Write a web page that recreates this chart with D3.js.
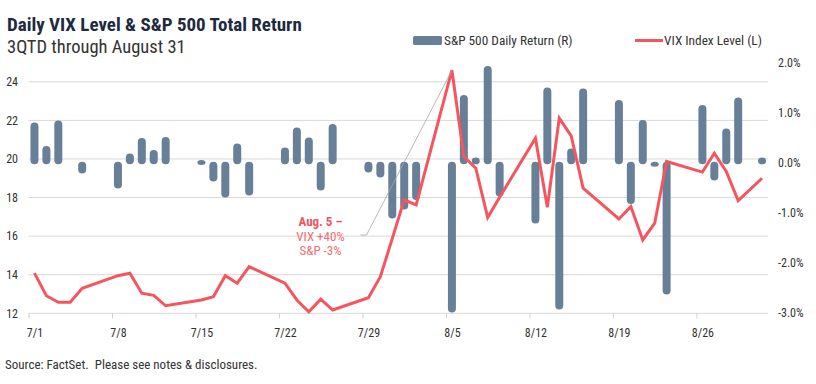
<!DOCTYPE html>
<html>
<head>
<meta charset="utf-8">
<script src="https://cdn.jsdelivr.net/npm/d3@7"></script>
<style>
  body { margin: 0; background: #fff; }
  svg text { font-family: "Roboto", sans-serif; font-stretch: condensed; }
</style>
</head>
<body>
<div id="chart"></div>
<script>
// S&P 500 daily returns (%) - right axis
var spxDates = ["2024-07-01","2024-07-02","2024-07-03","2024-07-05","2024-07-08","2024-07-09","2024-07-10","2024-07-11","2024-07-12",
  "2024-07-15","2024-07-16","2024-07-17","2024-07-18","2024-07-19","2024-07-22","2024-07-23","2024-07-24","2024-07-25","2024-07-26",
  "2024-07-29","2024-07-30","2024-07-31","2024-08-01","2024-08-02","2024-08-05","2024-08-06","2024-08-07","2024-08-08","2024-08-09",
  "2024-08-12","2024-08-13","2024-08-14","2024-08-15","2024-08-16","2024-08-19","2024-08-20","2024-08-21","2024-08-22","2024-08-23",
  "2024-08-26","2024-08-27","2024-08-28","2024-08-29","2024-08-31"];
var spxReturns = [0.80,0.33,0.84,-0.22,-0.52,0.18,0.49,0.25,0.51,
  0.05,-0.38,-0.70,0.38,-0.66,0.30,0.70,0.50,-0.56,0.77,
  -0.20,-0.30,-1.12,-0.94,-0.75,-3.00,1.35,0.10,1.93,-0.68,
  -1.22,1.50,-2.94,0.28,1.48,1.25,-0.83,0.85,-0.08,-2.64,
  1.15,-0.36,0.68,1.30,0.10];

// VIX index level - left axis
var vixDates = ["2024-07-01","2024-07-02","2024-07-03","2024-07-04","2024-07-05","2024-07-08","2024-07-09","2024-07-10","2024-07-11","2024-07-12",
  "2024-07-15","2024-07-16","2024-07-17","2024-07-18","2024-07-19","2024-07-22","2024-07-23","2024-07-24","2024-07-25","2024-07-26",
  "2024-07-29","2024-07-30","2024-07-31","2024-08-01","2024-08-02","2024-08-05","2024-08-06","2024-08-07","2024-08-08","2024-08-09",
  "2024-08-12","2024-08-13","2024-08-14","2024-08-15","2024-08-16","2024-08-19","2024-08-20","2024-08-21","2024-08-22","2024-08-23",
  "2024-08-26","2024-08-27","2024-08-28","2024-08-29","2024-08-31"];
var vixLevels = [14.08,12.91,12.57,12.57,13.30,13.95,14.08,13.04,12.93,12.39,
  12.69,12.86,13.95,13.56,14.42,13.56,12.69,12.08,12.73,12.17,
  12.81,13.90,15.87,17.88,17.62,24.60,20.13,19.52,16.96,18.02,
  21.08,17.50,22.12,21.20,18.49,16.89,17.53,15.80,16.67,19.87,
  19.32,20.30,19.35,17.84,19.00];

var leftTicks = [12, 14, 16, 18, 20, 22, 24];
var rightTicks = [-3, -2, -1, 0, 1, 2];
var xTickDates = ["2024-07-01","2024-07-08","2024-07-15","2024-07-22","2024-07-29","2024-08-05","2024-08-12","2024-08-19","2024-08-26"];

var svgWidth = 816;
var svgHeight = 384;
var plot = { left: 28.5, right: 768, top: 62.5, bottom: 313.3 };

var barColor = "#687f98";
var lineColor = "#f5555f";

var parse = d3.timeParse("%Y-%m-%d");
var mid = d => d3.timeHour.offset(parse(d), 12);

var svg = d3.select("#chart")
  .append("svg")
  .attr("width", svgWidth)
  .attr("height", svgHeight);

var xScale = d3.scaleTime()
  .domain([parse("2024-07-01"), parse("2024-09-01")])
  .range([plot.left, plot.right]);
var halfDay = xScale(mid("2024-07-01")) - xScale(parse("2024-07-01"));

var yLeft = d3.scaleLinear()
  .domain([12, 25])
  .range([plot.bottom, plot.top]);

var yRight = d3.scaleLinear()
  .domain([-3, 2])
  .range([312.5, plot.top]);

// gridlines
svg.append("g")
  .selectAll("line")
  .data(leftTicks)
  .enter()
  .append("line")
  .attr("x1", plot.left)
  .attr("x2", plot.right)
  .attr("y1", d => yLeft(d))
  .attr("y2", d => yLeft(d))
  .attr("stroke", "#d9d9d9")
  .attr("stroke-width", 1);

// left axis labels
var leftAxis = d3.axisLeft(yLeft).tickValues(leftTicks).tickSize(0).tickPadding(0);
var gl = svg.append("g")
  .attr("transform", `translate(18, 0)`)
  .call(leftAxis);
gl.select(".domain").remove();
gl.selectAll("text").attr("font-size", "12px").attr("fill", "#333").style("font-family", null);

// right axis labels
var rightAxis = d3.axisRight(yRight).tickValues(rightTicks).tickSize(0).tickPadding(0)
  .tickFormat(d => d.toFixed(1) + "%");
var gr = svg.append("g")
  .attr("transform", `translate(778, 0)`)
  .call(rightAxis);
gr.select(".domain").remove();
gr.selectAll("text").attr("font-size", "12px").attr("fill", "#333").style("font-family", null);

// x axis ticks + labels (labels sit mid-day)
var xAxis = d3.axisBottom(xScale)
  .tickValues(xTickDates.map(parse))
  .tickSize(5)
  .tickFormat(d3.timeFormat("%-m/%-d"));
var gx = svg.append("g")
  .attr("transform", `translate(0, ${plot.bottom})`)
  .call(xAxis);
gx.select(".domain").remove();
gx.selectAll(".tick line").attr("stroke", "#cfcfcf");
gx.selectAll(".tick text")
  .attr("x", halfDay)
  .attr("dy", "1.35em")
  .attr("font-size", "12px").attr("fill", "#333").style("font-family", null);

// bars (rounded)
var spx = spxDates.map((d, i) => ({ date: mid(d), value: spxReturns[i] }));
var zeroY = yRight(0);
svg.append("g")
  .selectAll("rect")
  .data(spx)
  .enter()
  .append("rect")
  .attr("x", d => xScale(d.date) - 4)
  .attr("width", 8)
  .attr("y", d => d.value >= 0 ? yRight(d.value) : zeroY - 0.8)
  .attr("height", d => d.value >= 0 ? Math.max(zeroY + 1.8 - yRight(d.value), 5) : Math.max(yRight(d.value) - zeroY + 0.8, 5))
  .attr("rx", 4)
  .attr("fill", barColor);

// VIX line
var vix = vixDates.map((d, i) => ({ date: mid(d), value: vixLevels[i] }));
var line = d3.line()
  .x(d => xScale(d.date))
  .y(d => yLeft(d.value));
svg.append("path")
  .datum(vix)
  .attr("d", line)
  .attr("fill", "none")
  .attr("stroke", lineColor)
  .attr("stroke-width", 3)
  .attr("stroke-linejoin", "miter");

// annotation for Aug. 5
var peak = vix[25];
svg.append("polyline")
  .attr("points", `360.5,235 366.5,235 ${xScale(peak.date)},${yLeft(peak.value)}`)
  .attr("fill", "none")
  .attr("stroke", "#a6a6a6")
  .attr("stroke-width", 0.8);

var ann = svg.append("g").attr("text-anchor", "middle").attr("font-size", "13px");
ann.append("text").attr("x", 320.5).attr("y", 226).attr("fill", "#f0545e").attr("font-weight", "bold").text("Aug. 5 \u2013");
ann.append("text").attr("x", 320.5).attr("y", 240.5).attr("fill", "#f26d76").text("VIX +40%");
ann.append("text").attr("x", 320.5).attr("y", 254.5).attr("fill", "#f26d76").text("S&P -3%");

// title
svg.append("text")
  .attr("x", 7).attr("y", 30.5)
  .attr("font-size", "19px").attr("font-weight", "bold").attr("fill", "#1e2a3f")
  .text("Daily VIX Level & S&P 500 Total Return");
svg.append("text")
  .attr("x", 7).attr("y", 52.5)
  .attr("font-size", "18.5px").attr("fill", "#333")
  .text("3QTD through August 31");

// legend
svg.append("rect").attr("x", 413).attr("y", 36).attr("width", 29).attr("height", 9).attr("rx", 1.5).attr("fill", barColor);
svg.append("text").attr("x", 444).attr("y", 45).attr("font-size", "13.3px").attr("fill", "#333").text("S&P 500 Daily Return (R)");
svg.append("line").attr("x1", 635).attr("x2", 663).attr("y1", 40.5).attr("y2", 40.5).attr("stroke", lineColor).attr("stroke-width", 3);
svg.append("text").attr("x", 664).attr("y", 45).attr("font-size", "13.3px").attr("fill", "#333").text("VIX Index Level (L)");

// source
svg.append("text")
  .attr("x", 5).attr("y", 369)
  .attr("font-size", "13px").attr("fill", "#333")
  .style("white-space", "pre")
  .text("Source: FactSet.  Please see notes & disclosures.");
</script>
</body>
</html>
